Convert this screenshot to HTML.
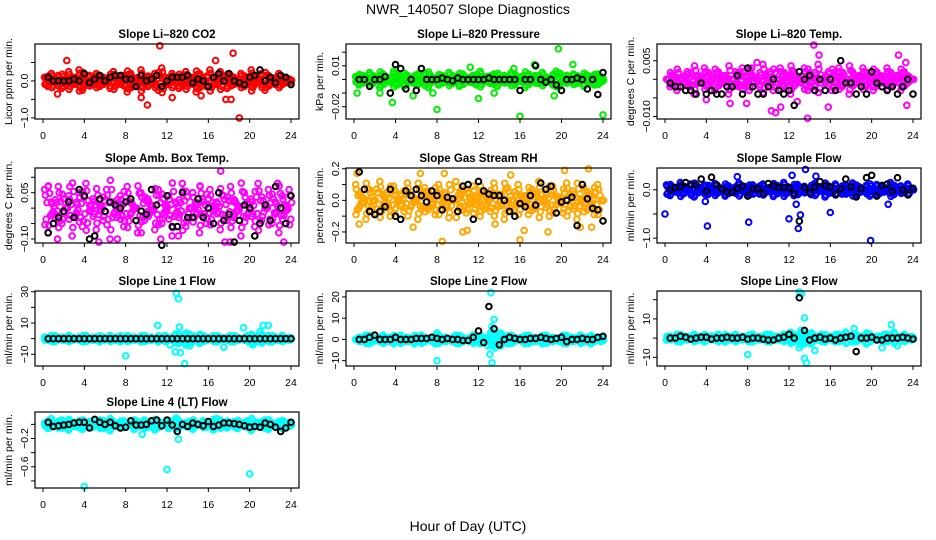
<!DOCTYPE html>
<html><head><meta charset="utf-8"><title>NWR_140507 Slope Diagnostics</title>
<style>
html,body{margin:0;padding:0;background:#fff;}
svg{display:block;font-family:"Liberation Sans",Arial,sans-serif;}
</style></head>
<body>
<svg id="chart" width="936" height="540" viewBox="0 0 936 540" xmlns="http://www.w3.org/2000/svg">
<rect width="936" height="540" fill="#fff"/>
<text x="468" y="14" font-size="14" text-anchor="middle" fill="#000">NWR_140507  Slope Diagnostics</text>
<text x="468" y="531" font-size="14" text-anchor="middle" fill="#000">Hour of Day (UTC)</text>
</svg>
<script>
// ---- shared time grids ----
const colorHours = Array.from({length:72},(_,i)=>0.15+i/3);
const blackHours = [0.5,1,1.5,2,2.5,3,3.5,4,4.5,5,5.5,6,6.5,7,7.5,8,8.5,9,9.5,10,10.5,11,11.5,12,12.5,13,13.5,14,14.5,15,15.5,16,16.5,17,17.5,18,18.5,19,19.5,20,20.5,21,21.5,22,22.5,23,23.5,24];
const xTicks = [0,4,8,12,16,20,24];

// ---- panel 1: CO2 ----
const co2Cloud = [0.1,-0.15,0.2,-0.05,0.15,-0.2,0.05,0.25,-0.1,0.1,0.3,-0.25,0.0,0.15,-0.1,0.2,-0.15,0.1,0.05,-0.2,0.25,-0.05,0.1,0.15,-0.3,0.2,0.0,-0.1,0.3,0.1,-0.15,0.05,0.2,-0.25,0.35,0.1,-0.1,0.2,0.0,-0.2,0.15,0.25,-0.05,0.1,-0.3,0.2,0.05,-0.15,0.3,0.1,-0.1,0.25,0.0,-0.2,0.15,0.1,-0.05,0.2,-0.15,0.1,0.3,-0.1,0.05,0.2,-0.25,0.15,0.0,-0.1,0.2,0.1,-0.05,0.05];
const co2Outliers = [[11.3,0.95],[18.4,0.75],[19,-1.0],[10.1,-0.65],[2.3,0.55],[16.7,0.55],[12.5,-0.45],[18.2,-0.5],[17.7,-0.5],[9.5,-0.45],[1.4,-0.35],[15.3,-0.4]];
const co2Black = [0.1,0.0,0.0,0.0,0.0,0.05,0.0,0.2,-0.05,0.05,0.15,0.0,0.1,0.15,0.15,0.05,0.05,-0.15,0.15,0.0,0.05,0.15,-0.15,0.0,0.1,0.1,0.1,0.15,-0.05,0.05,0.0,-0.15,0.1,0.2,0.0,0.2,0.0,-0.05,-0.1,0.1,0.15,0.3,0.0,0.1,-0.05,0.15,0.1,-0.1];
// ---- panel 2: Pressure ----
const presCloud = [0.002,-0.004,0.003,-0.001,0.005,-0.003,0.001,-0.006,0.004,0.0,-0.002,0.006,-0.004,0.002,-0.005,0.003,0.001,-0.003,0.004,-0.002,0.005,-0.006,0.002,0.0,-0.004,0.003,-0.001,0.005,-0.003,0.002,-0.005,0.004,0.001,-0.002,0.003,-0.004,0.006,-0.001,0.002,-0.003,0.004,-0.005,0.001,0.003,-0.002,0.005,-0.004,0.0,0.002,-0.006,0.004,-0.001,0.003,-0.003,0.005,-0.002,0.001,-0.004,0.006,-0.005,0.002,0.003,-0.001,0.004,-0.003,0.001,-0.005,0.003,0.002,-0.004,0.004,-0.002];
const presOutliers = [[19.7,0.0225],[17.4,0.011],[21.1,0.011],[11.2,0.009],[15.4,0.008],[3.7,-0.017],[8,-0.022],[16,-0.027],[24,-0.026],[12,-0.014],[0.3,-0.01],[2.5,-0.01],[13.5,-0.01],[19.3,-0.012],[5.7,-0.012],[7.6,-0.01]];
const presBlack = [0.0,0.0,-0.005,0.0,0.0,0.002,-0.01,0.011,0.008,-0.007,0.0,-0.008,0.008,0.0,0.0,0.0,0.001,0.0,-0.001,0.001,0.0,0.0,0.0,0.0,0.0,0.001,0.0,0.0,0.0,0.0,0.0,-0.008,0.0,0.0,0.01,0.0,-0.002,0.0,-0.004,-0.008,0.0,0.0,0.001,0.0,-0.007,0.0,-0.011,0.005];
// ---- panel 3: Li-820 Temp ----
const tempCloud = [0.0,-0.002,0.001,-0.003,0.0,-0.001,0.002,-0.002,-0.004,0.001,-0.001,0.003,-0.002,0.0,-0.003,0.002,-0.001,0.001,-0.004,0.0,0.002,-0.002,0.003,-0.001,-0.003,0.001,0.0,-0.002,0.004,-0.001,0.002,-0.003,0.0,0.003,-0.002,0.001,-0.004,0.002,0.0,-0.001,0.003,-0.003,0.001,-0.002,0.004,0.0,-0.001,0.002,-0.003,0.001,0.003,-0.002,0.0,-0.004,0.002,-0.001,0.001,0.003,-0.002,0.0,-0.003,0.002,0.001,-0.001,0.003,-0.002,0.0,0.001,-0.003,0.002,-0.001,0.0];
const tempOutliers = [[14.4,0.0092],[14.9,0.0065],[22.6,0.0065],[23.3,0.0045],[13.8,-0.0105],[10.3,-0.0085],[10.7,-0.009],[15.8,-0.0075],[23.4,-0.007],[6.3,-0.0065],[4,-0.0055],[12.8,-0.006],[7.9,-0.0065],[11.2,-0.0075],[8.4,0.003],[8.9,0.0045]];
const tempBlack = [-0.001,-0.002,-0.002,-0.003,-0.003,-0.004,-0.001,-0.004,-0.003,-0.004,-0.004,-0.002,-0.002,0.001,-0.004,0.003,-0.002,-0.004,-0.004,-0.002,0.0,-0.003,-0.004,-0.003,-0.007,0.002,0.0,0.001,-0.003,0.0,-0.003,0.0,-0.003,0.005,-0.001,-0.001,-0.004,-0.002,-0.004,0.002,-0.001,-0.002,-0.003,-0.002,-0.004,-0.002,0.0,-0.004];
// ---- panel 4: Amb Box Temp ----
const ambCloud = [0.06,-0.08,0.02,-0.03,0.07,-0.05,0.0,0.04,-0.09,-0.02,0.05,-0.06,0.08,-0.01,0.03,-0.07,0.01,-0.04,0.06,-0.1,0.02,-0.03,0.04,-0.06,0.07,-0.02,0.0,-0.08,0.05,-0.04,0.03,-0.01,-0.07,0.06,-0.05,0.01,0.04,-0.09,0.02,-0.03,0.08,-0.06,0.0,0.05,-0.02,-0.08,0.03,-0.05,0.06,-0.01,0.02,-0.07,0.04,-0.04,0.07,-0.03,0.01,-0.09,0.05,-0.02,0.03,-0.06,0.08,-0.04,0.0,0.06,-0.05,0.02,-0.08,0.04,-0.01,0.06];
const ambOutliers = [[17.2,0.12],[15.2,0.07],[5.4,-0.11],[1.4,-0.1],[7.2,-0.1],[13.1,-0.09],[17.6,-0.11],[18.1,-0.11],[23.3,-0.11],[11.4,-0.1],[22.7,0.08],[9.5,-0.08],[0.5,0.07],[2.6,0.07]];
const ambBlack = [-0.08,-0.05,-0.03,-0.01,0.02,-0.03,0.06,0.04,-0.1,-0.09,0.03,-0.01,0.02,0.01,0.0,0.02,0.03,-0.04,-0.01,-0.02,0.06,0.01,-0.12,0.04,-0.06,-0.06,0.05,-0.03,-0.03,0.03,-0.03,0.0,-0.05,0.05,-0.04,-0.02,-0.11,-0.04,0.01,0.0,-0.09,-0.05,0.01,-0.04,0.07,0.0,-0.05,0.04];
// ---- panel 5: Gas Stream RH ----
const rhCloud = [0.1,-0.05,0.02,-0.12,0.07,0.0,-0.08,0.12,-0.03,0.05,-0.1,0.09,-0.01,0.04,-0.07,0.11,-0.04,0.01,-0.12,0.06,0.08,-0.06,0.03,-0.09,0.1,-0.02,0.05,-0.11,0.0,0.12,-0.05,0.07,-0.08,0.02,0.09,-0.03,-0.1,0.06,0.01,-0.07,0.11,-0.04,0.04,-0.12,0.08,0.0,-0.06,0.1,-0.02,0.03,-0.09,0.07,-0.05,0.12,-0.01,0.05,-0.1,0.09,-0.03,0.02,-0.08,0.11,-0.04,0.06,-0.12,0.01,0.08,-0.06,0.04,-0.09,0.1,0.0];
const rhOutliers = [[0.3,0.17],[6.4,0.17],[8.7,0.17],[15.1,0.16],[20.3,0.19],[22.6,0.2],[8.5,-0.26],[16,-0.25],[10.5,-0.2],[10.9,-0.19],[18.7,-0.2],[16.4,-0.19],[0.5,-0.15],[5.7,-0.17],[21.8,-0.17],[22.9,-0.17],[13.6,-0.15]];
const rhBlack = [0.18,0.07,-0.07,-0.09,-0.07,-0.04,0.07,-0.1,-0.12,0.06,0.03,0.07,0.03,-0.01,0.06,0.03,-0.06,0.02,0.01,-0.07,0.09,0.1,-0.12,0.12,0.06,0.04,0.03,0.03,0.0,-0.07,-0.1,-0.02,-0.04,0.03,-0.03,0.11,0.07,0.09,-0.08,-0.01,0.0,0.02,-0.16,0.1,0.01,-0.05,-0.06,-0.13];
// ---- panel 6: Sample Flow ----
const sampleCloud = [0.1,-0.12,0.05,-0.05,0.15,-0.08,0.02,0.12,-0.15,0.07,-0.02,0.1,-0.1,0.04,0.13,-0.06,0.0,-0.13,0.08,0.03,-0.07,0.14,-0.03,0.06,-0.11,0.1,0.01,-0.09,0.12,-0.04,0.05,-0.14,0.09,-0.01,0.15,-0.07,0.03,-0.12,0.11,-0.05,0.07,0.0,-0.1,0.13,-0.02,0.04,-0.15,0.08,-0.06,0.12,0.02,-0.09,0.1,-0.03,0.14,-0.11,0.06,-0.01,0.09,-0.13,0.03,0.11,-0.07,0.05,-0.04,0.15,-0.1,0.02,0.08,-0.06,0.12,0.0];
const sampleOutliers = [[0,-0.5],[4.1,-0.75],[8.1,-0.67],[12,-0.6],[12.9,-0.8],[13.1,-0.52],[16,-0.47],[19.9,-1.05],[13.6,0.42],[12.3,0.3],[14.6,0.28],[7,0.27],[12.7,-0.3],[21.6,-0.3],[3.9,-0.24]];
const sampleBlack = [0.0,0.05,0.07,0.15,0.11,0.1,0.22,-0.03,0.26,0.1,0.02,-0.05,-0.05,0.03,0.08,-0.13,0.02,0.02,-0.07,0.13,0.08,0.05,0.05,0.04,-0.08,-0.65,0.05,-0.06,0.06,0.17,0.09,0.06,-0.1,0.02,0.22,0.06,-0.15,0.02,0.25,0.3,-0.13,0.09,0.12,-0.03,0.25,0.0,-0.1,0.03];
// ---- panel 7: Line 1 Flow ----
const line1Cloud = [1,-1,2,-2,0,1,-1,2,-1,0,1,-2,2,0,-1,1,-2,1,0,2,-1,1,-2,0,2,-1,1,0,-2,2,-1,1,0,-2,1,2,-1,0,3,-3,2,-4,3,-2,1,-3,2,-1,0,2,-2,1,0,-1,2,-2,1,0,-1,2,-3,1,-2,3,-1,2,-2,1,-1,2,0,-1];
const line1Outliers = [[12.9,29],[13.1,25.5],[13.2,7.5],[11.1,8.5],[19.4,7],[21.3,8.5],[21.8,8.5],[21,4.5],[8,-11],[12.8,-8.5],[13.3,-9],[13.7,-16],[17.5,-5.5],[12.3,-4],[14.2,-4.5],[20.3,-4]];
const line1Black = [0,0,0,0,0,0,0,0,0,0,0,0,0,0,0,0,0,0,0,0,0,0,0,0,0,0,0,0,0,0,0,0,0,0,0,0,0,0,0,0,0,0,0,0,0,0,0,0];
// ---- panel 8: Line 2 Flow ----
const line2Cloud = [0,1,-1,2,-2,1,0,-1,2,-1,1,-2,0,2,-1,1,0,-2,1,2,-1,0,1,-2,2,-1,1,0,-1,2,-2,1,0,-1,2,-1,-2,1,0,3,-3,2,-3,1,-2,2,-1,0,1,-2,2,-1,1,0,-2,2,-1,1,0,-1,2,-2,1,-1,0,2,-1,1,-2,1,0,-1];
const line2Outliers = [[13.2,22],[13.5,9.5],[13.3,6],[8,-10],[13.3,-11],[13.1,-7],[12.9,-3],[13.6,-4],[8,3],[14.1,3]];
const line2Black = [0,0,1,2,0,0,0,1,0,0,0,0.5,0.5,0.5,1,0.5,0,0.5,0,0,-0.5,-0.5,1,4,-1.5,15.5,5,-2.5,0,1,0.5,0,0,0.5,0.5,1,0.5,0,0.5,1,-1,0,0,0.5,0,0,1,1.5];
// ---- panel 9: Line 3 Flow ----
const line3Cloud = [-1,1,0,2,-2,1,-1,0,2,-1,1,-2,0,1,-1,2,0,-2,1,-1,2,0,-1,1,-2,2,0,-1,1,2,-2,0,1,-1,2,-1,3,-2,1,4,-3,2,-3,1,-1,2,-2,0,1,-2,2,-1,3,0,-2,2,-1,1,-3,2,0,-1,1,-2,2,-1,3,1,-1,2,0,-1];
const line3Outliers = [[13,24],[13.2,23],[13.5,10.5],[8,-8.5],[13.5,-10.5],[13.7,-13],[21.9,7],[18.3,5],[14.5,-6.5],[22.5,-4],[21,-5],[13,-5]];
const line3Black = [0,0,1,0.5,-0.5,0,0.5,0.5,-0.5,0,0,0.5,0,0,0.5,-0.5,0,0,-0.5,-1,-1,0,0.5,2,0,21,4,-1,0,0.5,-0.5,0,-1,0,0.5,1,-7,0,0,0.5,-1,-1,0,0,0,0.5,0,-0.5];
// ---- panel 10: Line 4 (LT) Flow ----
const line4Cloud = [0.02,-0.06,0.04,-0.01,-0.05,0.06,0.0,-0.08,0.03,-0.03,0.05,-0.07,0.01,0.04,-0.04,-0.02,0.06,-0.06,0.02,-0.09,0.03,0.0,-0.05,0.05,-0.03,0.01,-0.07,0.04,-0.01,0.06,-0.04,0.02,-0.08,0.05,-0.02,0.0,-0.06,0.03,0.07,-0.05,0.01,-0.03,0.04,-0.07,0.02,-0.01,0.05,-0.04,0.0,-0.08,0.03,0.06,-0.02,-0.05,0.01,0.04,-0.06,0.02,-0.03,0.05,-0.09,0.0,0.03,-0.04,0.06,-0.07,0.01,-0.02,0.04,-0.06,0.02,-0.03];
const line4Outliers = [[4,-0.88],[12,-0.64],[20,-0.7],[13.1,-0.21],[9.6,-0.14],[12.9,0.09],[0.8,0.08],[16.8,0.08]];
const line4Black = [0.03,-0.03,-0.02,-0.01,0.0,0.02,0.03,0.03,-0.05,0.07,0.03,0.0,0.03,-0.02,-0.05,-0.04,0.05,-0.01,-0.01,0.0,0.05,0.06,-0.02,0.06,-0.01,-0.1,0.0,-0.03,0.02,0.0,-0.02,0.04,-0.03,-0.01,0.02,0.02,0.01,0.0,-0.02,-0.04,-0.03,-0.04,0.02,0.0,-0.04,-0.1,-0.05,0.03];

const NS = "http://www.w3.org/2000/svg";
const svg = document.getElementById("chart");
function mk(tag, attrs, parent){
  const e = document.createElementNS(NS, tag);
  for (const k in attrs) e.setAttribute(k, attrs[k]);
  (parent||svg).appendChild(e);
  return e;
}
const cols = [[35,299],[346,611],[657,921]];
const rows = [[44,119],[168,243],[291,366],[412,488]];

const panels = [
 {id:"co2", title:"Slope Li\u2013820 CO2", ylab:"Licor ppm per min.", col:0,row:0, yTop:1.0, yBot:-1.03, ticks:[-1,-0.5,0,0.5], labels:{"-1":"\u22121.0","0":"0.0"}, color:"#ff0000", cloud:co2Cloud, out:co2Outliers, black:co2Black},
 {id:"pressure", title:"Slope Li\u2013820 Pressure", ylab:"kPa per min.", col:1,row:0, yTop:0.026, yBot:-0.029, ticks:[-0.02,-0.01,0,0.01,0.02], labels:{"0.01":"0.01","-0.02":"\u22120.02"}, color:"#00ee00", cloud:presCloud, out:presOutliers, black:presBlack},
 {id:"li820-temp", title:"Slope Li\u2013820 Temp.", ylab:"degrees C per min.", col:2,row:0, yTop:0.0095, yBot:-0.0107, ticks:[-0.01,-0.005,0,0.005], labels:{"0.005":"0.005","-0.01":"\u22120.010"}, color:"#ff00ff", cloud:tempCloud, out:tempOutliers, black:tempBlack},
 {id:"amb-box-temp", title:"Slope Amb. Box Temp.", ylab:"degrees C per min.", col:0,row:1, yTop:0.13, yBot:-0.113, ticks:[-0.1,-0.05,0,0.05,0.1], labels:{"0.05":"0.05","-0.1":"\u22120.10"}, color:"#ff00ff", cloud:ambCloud, out:ambOutliers, black:ambBlack},
 {id:"gas-stream-rh", title:"Slope Gas Stream RH", ylab:"percent per min.", col:1,row:1, yTop:0.205, yBot:-0.27, ticks:[-0.2,-0.1,0,0.1,0.2], labels:{"0.2":"0.2","0":"0.0","-0.2":"\u22120.2"}, color:"#ffa500", cloud:rhCloud, out:rhOutliers, black:rhBlack},
 {id:"sample-flow", title:"Slope Sample Flow", ylab:"ml/min per min.", col:2,row:1, yTop:0.45, yBot:-1.1, ticks:[-1,-0.5,0], labels:{"0":"0.0","-1":"\u22121.0"}, color:"#0000ff", cloud:sampleCloud, out:sampleOutliers, black:sampleBlack},
 {id:"line1-flow", title:"Slope Line 1 Flow", ylab:"ml/min per min.", col:0,row:2, yTop:30.5, yBot:-17.5, ticks:[-10,0,10,20,30], labels:{"30":"30","10":"10","-10":"\u221210"}, color:"#00ffff", cloud:line1Cloud, out:line1Outliers, black:line1Black},
 {id:"line2-flow", title:"Slope Line 2 Flow", ylab:"ml/min per min.", col:1,row:2, yTop:22.8, yBot:-12.5, ticks:[-10,0,10,20], labels:{"20":"20","10":"10","0":"0","-10":"\u221210"}, color:"#00ffff", cloud:line2Cloud, out:line2Outliers, black:line2Black},
 {id:"line3-flow", title:"Slope Line 3 Flow", ylab:"ml/min per min.", col:2,row:2, yTop:24.5, yBot:-14.5, ticks:[-10,0,10,20], labels:{"10":"10","-10":"\u221210"}, color:"#00ffff", cloud:line3Cloud, out:line3Outliers, black:line3Black},
 {id:"line4-flow", title:"Slope Line 4 (LT) Flow", ylab:"ml/min per min.", col:0,row:3, yTop:0.175, yBot:-0.9, ticks:[-0.8,-0.6,-0.4,-0.2,0], labels:{"-0.2":"\u22120.2","-0.6":"\u22120.6"}, color:"#00ffff", cloud:line4Cloud, out:line4Outliers, black:line4Black}
];

panels.forEach(p=>{
  const [L,R] = cols[p.col], [T,B] = rows[p.row];
  const g = mk("g",{});
  
  
  const xs = h => (L+8) + h/24*((R-8)-(L+8));
  const ys = v => T + (p.yTop - v)/(p.yTop - p.yBot)*(B-T);
  const t = mk("text",{x:(L+R)/2, y:T-6, "font-size":"11.5", "font-weight":"bold", "text-anchor":"middle"}, g);
  t.textContent = p.title;
  
  
  const yl = mk("text",{x:0,y:0,"font-size":"10.5","text-anchor":"middle",transform:`translate(${L-23},${(T+B)/2}) rotate(-90)`}, g);
  yl.textContent = p.ylab;
  
  
  const pg = mk("g",{fill:"none","stroke-width":"2"}, g);
  
  
  const dot = (h,v,c,name)=>{
    const y = ys(v); if (y<T-3||y>B+3) return;
    const c1 = mk("circle",{cx:xs(h).toFixed(1), cy:y.toFixed(1), r:"2.8", stroke:c}, pg);
    
    
  };
  // dense colored cloud: each reading plus its neighbouring sub-samples
  p.cloud.forEach((v,i)=>{
    dot(colorHours[i], v, p.color, 'point');
    dot(colorHours[i]+0.08, v*0.7, p.color, 'point');
    dot(colorHours[i]+0.16, -v*0.6, p.color, 'point');
    dot(colorHours[i]+0.24, v*0.3, p.color, 'point');
    dot(colorHours[i]+0.04, -v*0.9, p.color, 'point');
  });
  p.out.forEach(o=>dot(o[0], o[1], p.color, 'outlier-point'));
  p.black.forEach((v,i)=>dot(blackHours[i], v, "#000", 'hourly-mean-point'));
  const bx = mk("rect",{x:L,y:T,width:R-L,height:B-T,fill:"none",stroke:"#000","stroke-width":"1.2"}, g);
  
  
  xTicks.forEach(h=>{
    const tk = mk("line",{x1:xs(h),x2:xs(h),y1:B,y2:B+4,stroke:"#000","stroke-width":"1"}, g);
    
    
    const tl = mk("text",{x:xs(h),y:B+20,"font-size":"10.5","text-anchor":"middle"}, g);
    tl.textContent = String(h);
    
    
  });
  p.ticks.forEach(v=>{
    const y = ys(v); if (y<T-0.5||y>B+0.5) return;
    const tk = mk("line",{x1:L-4,x2:L,y1:y,y2:y,stroke:"#000","stroke-width":"1"}, g);
    
    
    const lab = p.labels[String(v)];
    if (lab){
      const tl = mk("text",{x:0,y:0,"font-size":"10.5","text-anchor":"middle",transform:`translate(${L-7},${y}) rotate(-90)`}, g);
      tl.textContent = lab;
      
      
    }
  });
});
</script>
</body></html>
